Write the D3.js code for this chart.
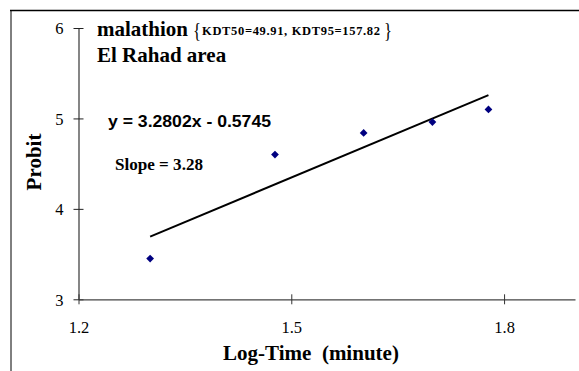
<!DOCTYPE html>
<html><head><meta charset="utf-8">
<script src="https://cdn.jsdelivr.net/npm/d3@7"></script>
<style>body{margin:0;background:#fff} svg{display:block}</style>
</head><body><svg id="c" width="579" height="371"></svg>
<script>
// ---- data ----
const logTime = [1.301, 1.477, 1.602, 1.699, 1.778];
const probit = [3.45, 4.60, 4.84, 4.96, 5.10];
const xTicks = [1.2, 1.5, 1.8];
const yTicks = [3, 4, 5, 6];
const xDomain = [1.2, 1.9];
const yDomain = [3, 6];
const trendSlope = 3.2802;
const trendIntercept = -0.5745;
const titleMain = "malathion";
const titleKdt = "KDT50=49.91, KDT95=157.82";
const subtitle = "El Rahad area";
const equationText = "y = 3.2802x - 0.5745";
const slopeText = "Slope = 3.28";
const xTitle = "Log-Time  (minute)";
const yTitle = "Probit";

// ---- drawing ----
const serif = "'Liberation Serif','Times New Roman',serif";
const sans = "'Liberation Sans',Arial,sans-serif";
const svg = d3.select('#c');
const x = d3.scaleLinear().domain(xDomain).range([78.5, 575]);
const y = d3.scaleLinear().domain(yDomain).range([299.3, 28]);

// chart-area frame (cropped at right/bottom)
svg.append('line').attr('x1',10).attr('x2',579).attr('y1',10.5).attr('y2',10.5)
  .attr('stroke','#000').attr('stroke-width',1.6);
svg.append('line').attr('x1',11).attr('x2',11).attr('y1',10).attr('y2',371)
  .attr('stroke','#000').attr('stroke-width',1);

// y axis
const gy = svg.append('g').attr('transform','translate(78.5,0)')
  .call(d3.axisLeft(y).tickValues(yTicks).tickSize(5).tickSizeOuter(0).tickFormat(d3.format('d')))
  .attr('font-family', serif).attr('font-size', 16.5);
gy.select('.domain').attr('stroke','#222').attr('stroke-width',1.1);
gy.selectAll('.tick line').attr('x1',5).attr('x2',-5).attr('stroke','#222');
gy.selectAll('.tick text').attr('x',-15).attr('dy','0.35em')
  .style('font-family',serif).style('font-size','16.5px').attr('fill','#000');

// x axis
const gx = svg.append('g').attr('transform','translate(0,299.3)')
  .call(d3.axisBottom(x).tickValues(xTicks).tickSize(5).tickSizeOuter(0).tickFormat(d3.format('.1f')))
  .attr('font-family', serif).attr('font-size', 16.5);
gx.select('.domain').attr('stroke','#444').attr('stroke-width',1.3);
gx.selectAll('.tick line').attr('y1',-5).attr('y2',5).attr('stroke','#333');
gx.selectAll('.tick text').attr('y',33.4).attr('dy',0)
  .style('font-family',serif).style('font-size','16.5px').attr('fill','#000');

// trendline
const xs = [d3.min(logTime), d3.max(logTime)];
svg.append('path')
  .datum(xs.map(v => [v, trendSlope * v + trendIntercept]))
  .attr('d', d3.line().x(d => x(d[0])).y(d => y(d[1])))
  .attr('fill','none').attr('stroke','#000').attr('stroke-width',2);

// markers
svg.append('g').selectAll('path').data(logTime.map((v,i) => [v, probit[i]])).join('path')
  .attr('d', d3.symbol(d3.symbolSquare, 30)())
  .attr('transform', d => `translate(${x(d[0])},${y(d[1])}) rotate(45)`)
  .attr('fill','#000080');

// titles
svg.append('text').attr('x',97).attr('y',35.7).text(titleMain)
  .style('font-family',serif).style('font-weight','bold').style('font-size','21px');
svg.append('text').attr('x',193).attr('y',37).text('{')
  .attr('textLength',8).attr('lengthAdjust','spacingAndGlyphs')
  .style('font-family',serif).style('font-size','22px');
svg.append('text').attr('x',202).attr('y',35).text(titleKdt)
  .attr('textLength',178).attr('lengthAdjust','spacing')
  .style('font-family',serif).style('font-weight','bold').style('font-size','12.5px');
svg.append('text').attr('x',384).attr('y',37).text('}')
  .attr('textLength',8).attr('lengthAdjust','spacingAndGlyphs')
  .style('font-family',serif).style('font-size','22px');
svg.append('text').attr('x',97).attr('y',62).text(subtitle)
  .style('font-family',serif).style('font-weight','bold').style('font-size','21px');

svg.append('text').attr('x',108).attr('y',126.7).text(equationText)
  .attr('textLength',163).attr('lengthAdjust','spacingAndGlyphs')
  .style('font-family',sans).style('font-weight','bold').style('font-size','16.5px');
svg.append('text').attr('x',115).attr('y',169.5).text(slopeText)
  .attr('textLength',88).attr('lengthAdjust','spacingAndGlyphs')
  .style('font-family',serif).style('font-weight','bold').style('font-size','16px');

// axis titles
svg.append('text').attr('x',311).attr('y',360).attr('text-anchor','middle').text(xTitle)
  .style('white-space','pre').attr('xml:space','preserve')
  .style('font-family',serif).style('font-weight','bold').style('font-size','21px');
svg.append('text').attr('transform','translate(41,162) rotate(-90)').attr('text-anchor','middle').text(yTitle)
  .style('font-family',serif).style('font-weight','bold').style('font-size','21px');
</script></body></html>
